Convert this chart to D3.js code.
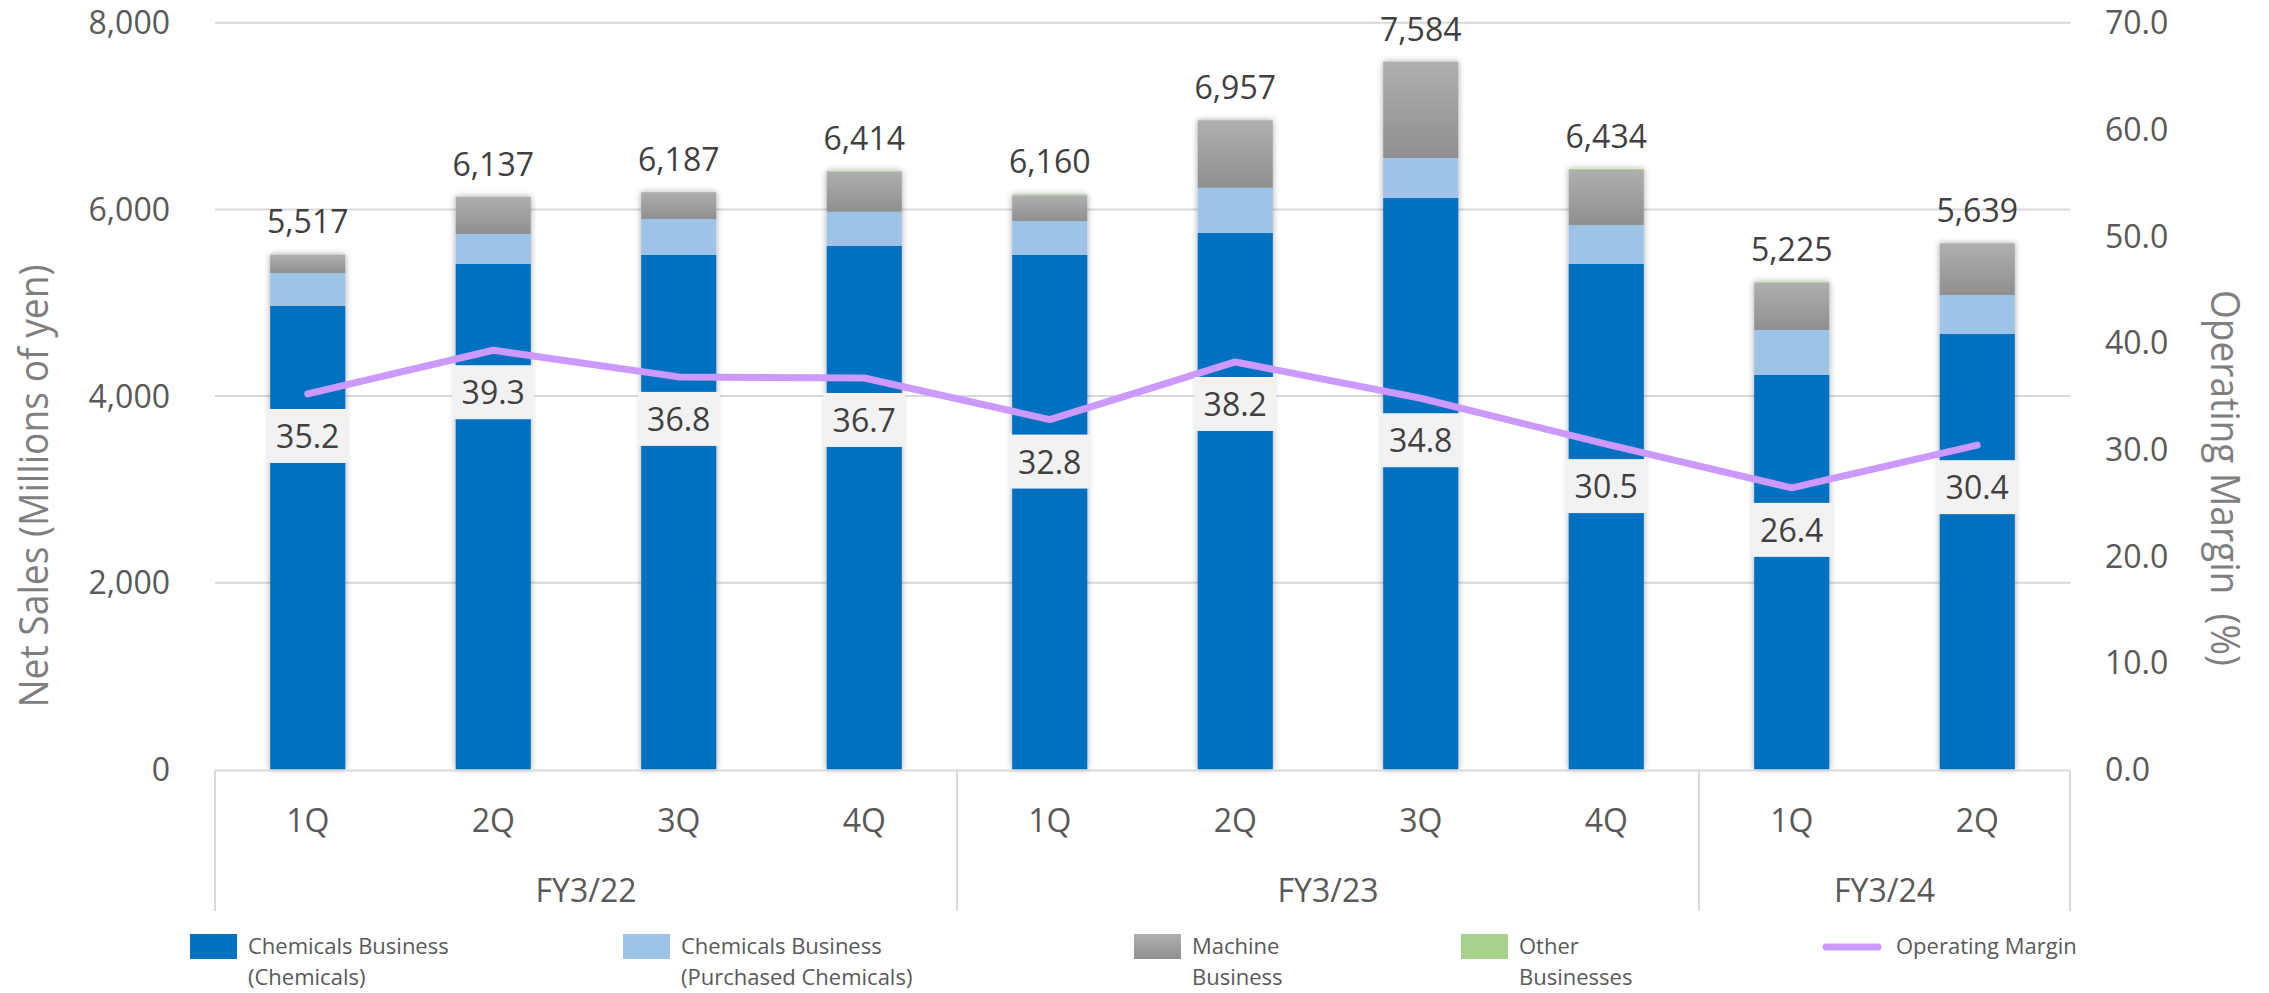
<!DOCTYPE html>
<html>
<head>
<meta charset="utf-8">
<script src="https://cdn.jsdelivr.net/npm/d3@7"></script>
<style>
  body { margin: 0; background: #fff; }
  svg text { font-family: "Open Sans", "Noto Sans", sans-serif; }
</style>
</head>
<body>
<script>
// quarters and fiscal years
var quarters = ["1Q", "2Q", "3Q", "4Q", "1Q", "2Q", "3Q", "4Q", "1Q", "2Q"];
var years = ["FY3/22", "FY3/23", "FY3/24"];
var yearSpans = [4, 4, 2];

// net sales by segment (millions of yen)
var chemicals = [4968, 5415, 5512, 5608, 5512, 5747, 6122, 5415, 4226, 4665];
var purchased = [351, 322, 385, 367, 364, 485, 429, 418, 482, 418];
var machine = [196, 398, 288, 429, 274, 723, 1031, 591, 507, 554];
var other = [2, 2, 2, 10, 10, 2, 2, 10, 10, 2];
var totals = [5517, 6137, 6187, 6414, 6160, 6957, 7584, 6434, 5225, 5639];

// operating margin (%)
var margin = [35.2, 39.3, 36.8, 36.7, 32.8, 38.2, 34.8, 30.5, 26.4, 30.4];

var leftTicks = [0, 2000, 4000, 6000, 8000];
var rightTicks = [0, 10, 20, 30, 40, 50, 60, 70];

var seriesKeys = ["chemicals", "purchased", "machine", "other"];
var seriesNames = [
  ["Chemicals Business", "(Chemicals)"],
  ["Chemicals Business", "(Purchased Chemicals)"],
  ["Machine", "Business"],
  ["Other", "Businesses"]
];

var w = 2269, h = 993;
var plotLeft = 215, plotRight = 2070, plotTop = 22.7, plotBottom = 769.5;

var rows = quarters.map(function (q, i) {
  return { i: i, chemicals: chemicals[i], purchased: purchased[i], machine: machine[i], other: other[i] };
});

var svg = d3.select("body").append("svg")
  .attr("width", w)
  .attr("height", h);

var defs = svg.append("defs");
var grad = defs.append("linearGradient")
  .attr("id", "machineGrad")
  .attr("x1", 0).attr("y1", 0).attr("x2", 0).attr("y2", 1);
grad.append("stop").attr("offset", "0%").attr("stop-color", "#afafaf");
grad.append("stop").attr("offset", "100%").attr("stop-color", "#8f8f8f");

var shadow = defs.append("filter").attr("id", "barShadow")
  .attr("x", "-30%").attr("y", "-10%").attr("width", "160%").attr("height", "120%");
shadow.append("feDropShadow")
  .attr("dx", 0).attr("dy", 0).attr("stdDeviation", 3)
  .attr("flood-color", "#000").attr("flood-opacity", 0.35);

var colors = {
  chemicals: "#0070c0",
  purchased: "#9dc3e6",
  machine: "url(#machineGrad)",
  other: "#a9d18e"
};

var x = d3.scaleBand()
  .domain(d3.range(quarters.length))
  .range([plotLeft, plotRight])
  .paddingInner(0.595)
  .paddingOuter(0.2975);

var y = d3.scaleLinear().domain([0, 8000]).range([plotBottom, plotTop]);
var yR = d3.scaleLinear().domain([0, 70]).range([plotBottom, plotTop]);

// gridlines
svg.append("g").selectAll("line")
  .data(leftTicks.slice(1))
  .enter().append("line")
  .attr("x1", plotLeft).attr("x2", plotRight)
  .attr("y1", function (d) { return y(d); })
  .attr("y2", function (d) { return y(d); })
  .attr("stroke", "#d9d9d9")
  .attr("stroke-width", 2);

// left tick labels
svg.append("g").selectAll("text")
  .data(leftTicks)
  .enter().append("text")
  .attr("x", 170)
  .attr("y", function (d) { return y(d) + 11.5; })
  .attr("text-anchor", "end")
  .attr("fill", "#595959")
  .style("font-size", "32px")
  .text(function (d) { return d3.format(",")(d); });

// right tick labels
svg.append("g").selectAll("text")
  .data(rightTicks)
  .enter().append("text")
  .attr("x", 2105)
  .attr("y", function (d) { return yR(d) + 11.5; })
  .attr("text-anchor", "start")
  .attr("fill", "#595959")
  .style("font-size", "32px")
  .text(function (d) { return d.toFixed(1); });

// axis titles
svg.append("text")
  .attr("transform", "translate(48,486) rotate(-90)")
  .attr("text-anchor", "middle")
  .attr("fill", "#7f7f7f")
  .attr("textLength", 443)
  .attr("lengthAdjust", "spacingAndGlyphs")
  .style("font-size", "40px")
  .text("Net Sales (Millions of yen)");

svg.append("text")
  .attr("transform", "translate(2211,478) rotate(90)")
  .attr("text-anchor", "middle")
  .attr("fill", "#7f7f7f")
  .attr("textLength", 376)
  .attr("lengthAdjust", "spacingAndGlyphs")
  .style("font-size", "40px")
  .style("white-space", "pre")
  .text("Operating Margin  (%)");

// stacked bars
var stacked = d3.stack().keys(seriesKeys)(rows);

var barGroups = svg.append("g").selectAll(".bar")
  .data(rows)
  .enter().append("g")
  .attr("class", "bar")
  .attr("filter", "url(#barShadow)");

barGroups.each(function (r) {
  var g = d3.select(this);
  stacked.forEach(function (layer) {
    var seg = layer[r.i];
    g.append("rect")
      .attr("x", x(r.i))
      .attr("width", x.bandwidth())
      .attr("y", y(seg[1]))
      .attr("height", Math.max(0, y(seg[0]) - y(seg[1])))
      .attr("fill", colors[layer.key]);
  });
});

// category axis
var axis = svg.append("g");
axis.append("line")
  .attr("x1", plotLeft).attr("x2", plotRight)
  .attr("y1", plotBottom + 1).attr("y2", plotBottom + 1)
  .attr("stroke", "#d9d9d9").attr("stroke-width", 2);

var step = x.step();
var bounds = [0];
yearSpans.forEach(function (s, i) { bounds.push(bounds[i] + s); });

axis.selectAll(".divider")
  .data(bounds)
  .enter().append("line")
  .attr("class", "divider")
  .attr("x1", function (d) { return plotLeft + d * step; })
  .attr("x2", function (d) { return plotLeft + d * step; })
  .attr("y1", plotBottom + 1)
  .attr("y2", 911)
  .attr("stroke", "#d9d9d9")
  .attr("stroke-width", 2);

axis.selectAll(".qlabel")
  .data(quarters)
  .enter().append("text")
  .attr("class", "qlabel")
  .attr("x", function (d, i) { return x(i) + x.bandwidth() / 2; })
  .attr("y", 832)
  .attr("text-anchor", "middle")
  .attr("fill", "#595959")
  .style("font-size", "32px")
  .text(function (d) { return d; });

axis.selectAll(".ylabel")
  .data(years)
  .enter().append("text")
  .attr("class", "ylabel")
  .attr("x", function (d, i) { return plotLeft + (bounds[i] + bounds[i + 1]) / 2 * step; })
  .attr("y", 902)
  .attr("text-anchor", "middle")
  .attr("fill", "#595959")
  .style("font-size", "32px")
  .text(function (d) { return d; });

// total labels
svg.append("g").selectAll("text")
  .data(totals)
  .enter().append("text")
  .attr("x", function (d, i) { return x(i) + x.bandwidth() / 2; })
  .attr("y", function (d, i) { return y(d3.sum(seriesKeys, function (k) { return rows[i][k]; })) - 21; })
  .attr("text-anchor", "middle")
  .attr("fill", "#404040")
  .style("font-size", "32px")
  .text(function (d) { return d3.format(",")(d); });

// operating margin line
var line = d3.line()
  .x(function (d, i) { return x(i) + x.bandwidth() / 2; })
  .y(function (d) { return yR(d); });

svg.append("path")
  .datum(margin)
  .attr("d", line)
  .attr("fill", "none")
  .attr("stroke", "#cc99ff")
  .attr("stroke-width", 7)
  .attr("stroke-linecap", "round")
  .attr("stroke-linejoin", "round");

// margin labels
var ml = svg.append("g").selectAll("g")
  .data(margin)
  .enter().append("g")
  .attr("transform", function (d, i) {
    return "translate(" + (x(i) + x.bandwidth() / 2) + "," + (yR(d) + 15) + ")";
  });

ml.append("rect")
  .attr("x", -41).attr("y", 0)
  .attr("width", 82).attr("height", 54)
  .attr("fill", "#f2f2f2");

ml.append("text")
  .attr("x", 0).attr("y", 39)
  .attr("text-anchor", "middle")
  .attr("fill", "#404040")
  .style("font-size", "32px")
  .text(function (d) { return d.toFixed(1); });

// legend
var legendX = [190, 623, 1134, 1461];
var legend = svg.append("g");
seriesKeys.forEach(function (k, i) {
  legend.append("rect")
    .attr("x", legendX[i]).attr("y", 934)
    .attr("width", 47).attr("height", 25)
    .attr("fill", colors[k]);
  var t = legend.append("text")
    .attr("x", legendX[i] + 58)
    .attr("y", 954)
    .attr("fill", "#595959")
    .style("font-size", "22px");
  t.append("tspan").attr("x", legendX[i] + 58).text(seriesNames[i][0]);
  t.append("tspan").attr("x", legendX[i] + 58).attr("dy", 31).text(seriesNames[i][1]);
});

legend.append("line")
  .attr("x1", 1826).attr("x2", 1878)
  .attr("y1", 947).attr("y2", 947)
  .attr("stroke", "#cc99ff")
  .attr("stroke-width", 7)
  .attr("stroke-linecap", "round");

legend.append("text")
  .attr("x", 1896).attr("y", 954)
  .attr("fill", "#595959")
  .style("font-size", "22px")
  .text("Operating Margin");
</script>
</body>
</html>
